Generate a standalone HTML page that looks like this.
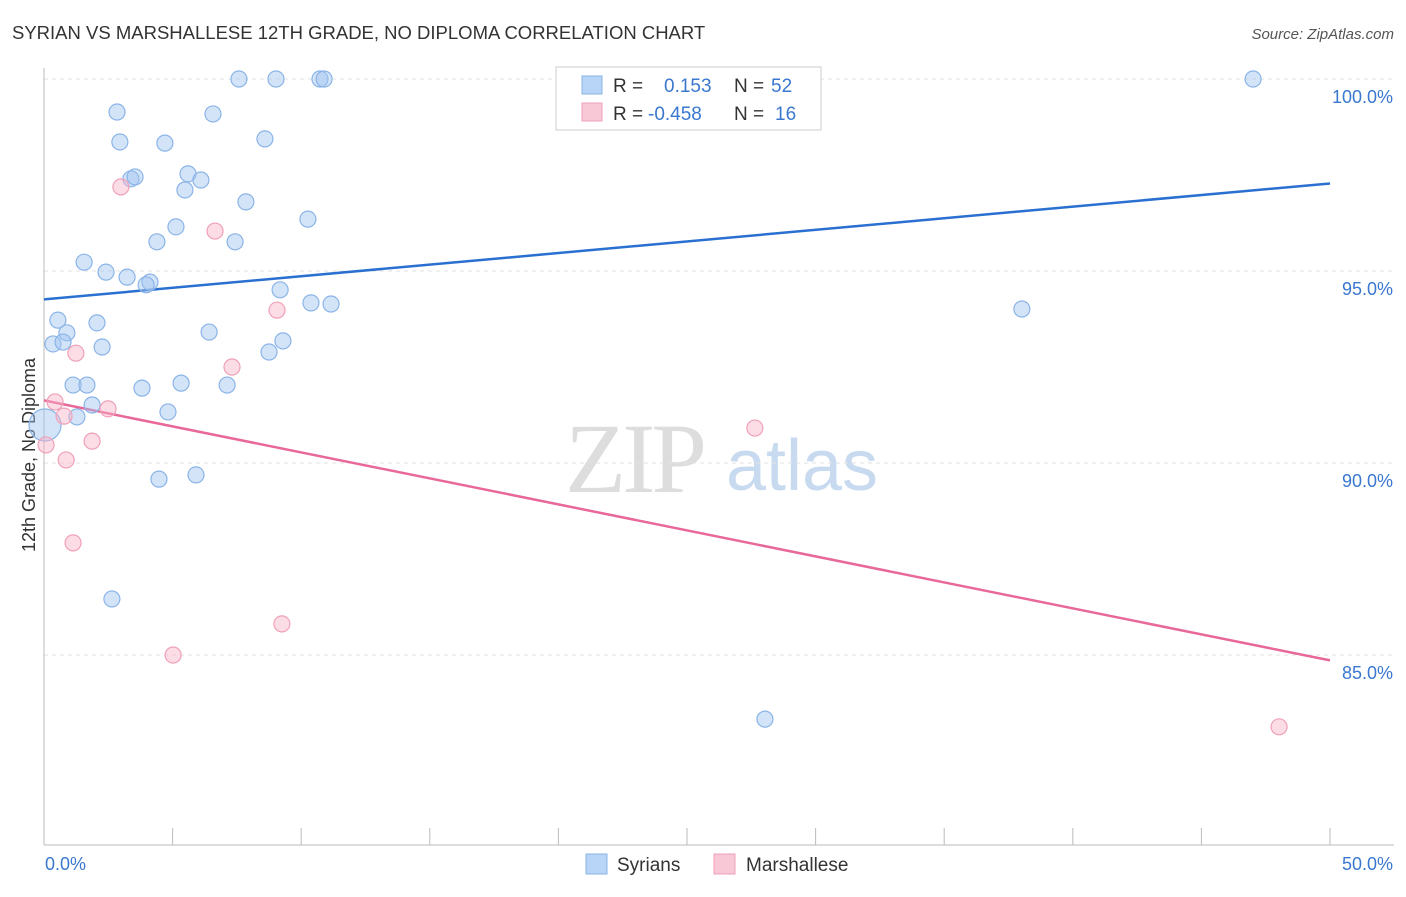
<!DOCTYPE html>
<html><head><meta charset="utf-8"><style>
body{margin:0;background:#fff;font-family:"Liberation Sans",sans-serif}
svg text{font-family:"Liberation Sans",sans-serif}
</style></head><body>
<svg id="chart" width="1406" height="892" xmlns="http://www.w3.org/2000/svg">
<text x="12" y="39" font-size="18.5" fill="#333">SYRIAN VS MARSHALLESE 12TH GRADE, NO DIPLOMA CORRELATION CHART</text>
<text x="1394" y="39" font-size="15" fill="#555" font-style="italic" text-anchor="end">Source: ZipAtlas.com</text>
<text x="35" y="455" font-size="18" fill="#333" text-anchor="middle" transform="rotate(-90 35 455)">12th Grade, No Diploma</text>
<g><text x="634" y="492" font-size="100" fill="#ddd" style="font-family:'Liberation Serif',serif" text-anchor="middle" letter-spacing="-4">ZIP</text><text x="802" y="490" font-size="72" fill="#c8daf0" text-anchor="middle">atlas</text></g>
<g id="grid"></g><g id="axes"></g><g id="trends"></g><g id="points"></g>
<g>
<rect x="556" y="67" width="265" height="63" fill="#fff" stroke="#ccc"/>
<rect x="582" y="76" width="20" height="18" fill="#b8d4f6" stroke="#8ab4e8"/>
<text x="613" y="92" font-size="19" fill="#333">R = </text><text x="664" y="92" font-size="19" fill="#3a78d0">0.153</text>
<text x="734" y="92" font-size="19" fill="#333">N = </text><text x="771" y="92" font-size="19" fill="#3a78d0">52</text>
<rect x="582" y="103" width="20" height="18" fill="#f9c8d6" stroke="#f0a0b8"/>
<text x="613" y="120" font-size="19" fill="#333">R = </text><text x="648" y="120" font-size="19" fill="#3a78d0">-0.458</text>
<text x="734" y="120" font-size="19" fill="#333">N = </text><text x="775" y="120" font-size="19" fill="#3a78d0">16</text>
</g>
<g>
<rect x="586" y="854" width="21" height="20" fill="#b8d4f6" stroke="#8ab4e8"/>
<text x="617" y="871" font-size="19" fill="#333">Syrians</text>
<rect x="714" y="854" width="21" height="20" fill="#f9c8d6" stroke="#f0a0b8"/>
<text x="746" y="871" font-size="19" fill="#333">Marshallese</text>
</g>
</svg>
<script>
const xTicks=[0,5,10,15,20,25,30,35,40,45,50];
const yTicks=[85,90,95,100];
const syrX=[7.58,9.02,10.73,10.89,27.84,47.01,2.84,6.57,2.95,4.70,8.59,3.38,3.54,5.60,6.10,5.48,7.85,10.26,5.13,4.39,7.43,1.56,2.41,3.23,4.12,3.97,9.18,10.38,11.16,38.02,0.54,2.06,0.89,6.42,0.35,0.74,2.26,9.29,8.75,1.13,1.67,3.81,5.33,7.12,1.87,1.28,4.82,0.04,4.47,5.91,2.64,28.03];
const syrY=[100,100,100,100,100,100,99.14,99.09,98.36,98.33,98.44,97.40,97.45,97.53,97.37,97.11,96.80,96.35,96.15,95.76,95.76,95.23,94.97,94.84,94.71,94.64,94.51,94.17,94.14,94.01,93.72,93.65,93.39,93.41,93.10,93.15,93.02,93.18,92.89,92.03,92.03,91.95,92.08,92.03,91.51,91.20,91.33,90.99,89.58,89.69,86.46,83.33];
const marX=[2.99,6.65,9.06,1.24,7.31,0.43,2.49,0.78,1.87,0.08,0.86,27.64,1.13,9.25,5.02,48.02];
const marY=[97.19,96.04,93.98,92.86,92.50,91.59,91.41,91.22,90.57,90.47,90.08,90.91,87.92,85.81,85.0,83.13];
const syrTrend=[94.26,97.28];
const marTrend=[91.63,84.86];
const X=v=>44+v/50*1286, Y=v=>79+(100-v)*38.4;
const NS="http://www.w3.org/2000/svg";
function mk(p,tag,a){const e=document.createElementNS(NS,tag);for(const k in a)e.setAttribute(k,a[k]);document.getElementById(p).appendChild(e);return e;}
yTicks.forEach(t=>{
 const l=mk('grid','line',{x1:44,x2:1394,y1:Y(t),y2:Y(t),stroke:'#e2e2e2','stroke-dasharray':'4,4'});
 
 
 const tx=mk('grid','text',{x:1393,y:Y(t)+24,'font-size':18,fill:'#3a78d0','text-anchor':'end'});tx.textContent=t.toFixed(1)+'%';
 
 
});
const ax=mk('axes','line',{x1:44,x2:1394,y1:845,y2:845,stroke:'#bbb'});


const ay=mk('axes','line',{x1:44,x2:44,y1:68,y2:845,stroke:'#bbb'});


xTicks.forEach(t=>{const l=mk('axes','line',{x1:X(t),x2:X(t),y1:828,y2:845,stroke:'#bbb'});
 
 });
[[0,'start'],[50,'end']].forEach(([t,a])=>{const tx=mk('axes','text',{x:t==0?45:1393,y:870,'font-size':18,fill:'#3a78d0','text-anchor':a});tx.textContent=t.toFixed(1)+'%';
 
 });
const t1=mk('trends','line',{x1:X(0),y1:Y(syrTrend[0]),x2:X(50),y2:Y(syrTrend[1]),stroke:'#2a70d0','stroke-width':2.5});


const t2=mk('trends','line',{x1:X(0),y1:Y(marTrend[0]),x2:X(50),y2:Y(marTrend[1]),stroke:'#e8689a','stroke-width':2.5});


syrX.forEach((x,i)=>{const c=mk('points','circle',{cx:X(x),cy:Y(syrY[i]),r:i==47?16:8,fill:'rgba(160,196,240,0.45)',stroke:'#8ab4e8','stroke-width':1.2});
 
 });
marX.forEach((x,i)=>{const c=mk('points','circle',{cx:X(x),cy:Y(marY[i]),r:8,fill:'rgba(248,180,200,0.45)',stroke:'#f0a0b8','stroke-width':1.2});
 
 });
</script>
</body></html>
